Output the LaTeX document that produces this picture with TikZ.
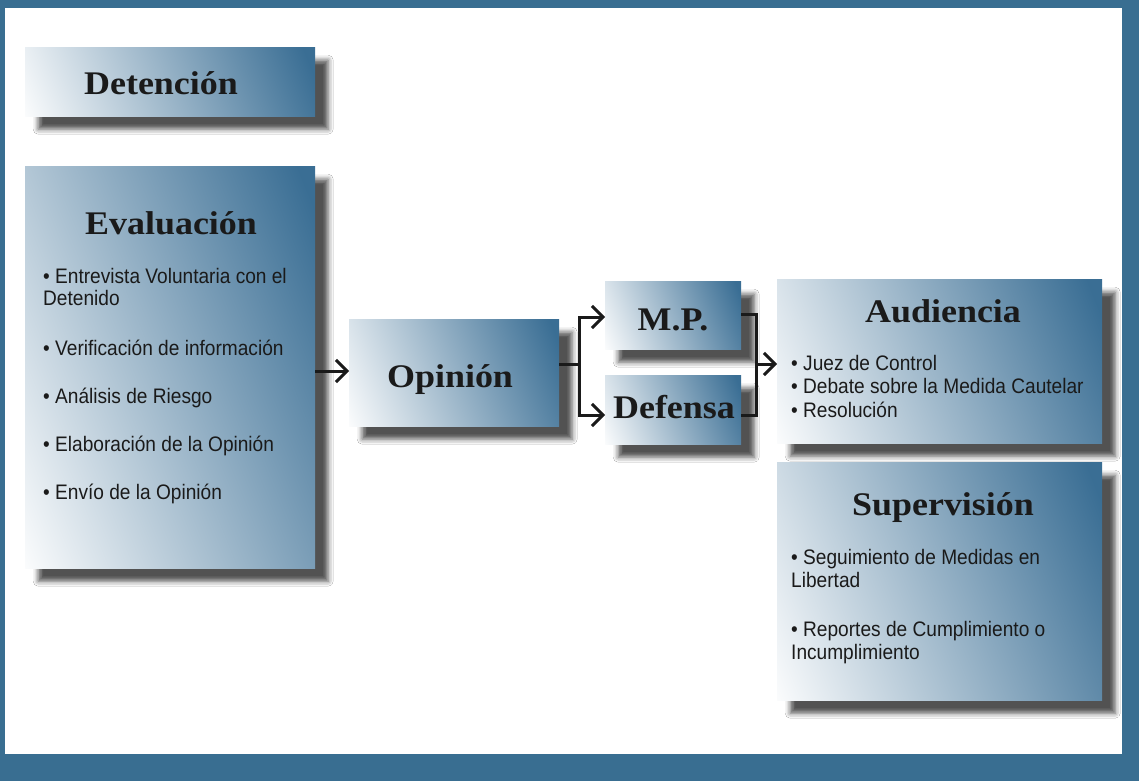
\documentclass[tikz,border=0pt]{standalone}
\usepackage{fontspec}
\newfontfamily\condfont[FakeStretch=0.91]{Liberation Sans}
\newfontfamily\ttlfont[FakeStretch=1.09]{Liberation Serif}
\usetikzlibrary{arrows.meta,shadows.blur}
\definecolor{framecol}{RGB}{57,110,145}
\definecolor{boxdark}{RGB}{58,110,148}
\definecolor{inkcol}{RGB}{26,26,26}
\pgfdeclareverticalshading{boxshade}{100bp}{color(0bp)=(white); color(16bp)=(white); color(80bp)=(boxdark); color(100bp)=(boxdark)}
\tikzset{
  gbox/.style={draw=none, inner sep=0pt, anchor=north west,
    shade, shading=boxshade, shading angle=-68,
    blur shadow={shadow xshift=13pt, shadow yshift=-13pt, shadow blur radius=5pt, shadow opacity=68}},
  ttl/.style={font=\ttlfont\bfseries\fontsize{33}{38}\selectfont, text=inkcol, anchor=base, inner sep=0pt},
  itm/.style={font=\condfont\fontsize{21}{24}\selectfont, text=inkcol, anchor=base west, inner sep=0pt},
  conn/.style={draw=inkcol, line width=3pt},
  arr/.style={conn, -{Straight Barb[length=11pt,width=22pt]}},
}
\begin{document}
\begin{tikzpicture}[x=1pt,y=-1pt]
\useasboundingbox (0,0) rectangle (1139,781);
\fill[framecol] (0,0) rectangle (1139,781);
\fill[white] (5,8) rectangle (1122,754);

% boxes
\node[gbox, minimum width=290pt, minimum height=69pt] (det) at (25,47) {};
\node[gbox, minimum width=290pt, minimum height=402pt] (eval) at (25,166) {};
\node[gbox, minimum width=210pt, minimum height=107pt] (opin) at (349,319) {};
\node[gbox, minimum width=136pt, minimum height=68pt] (mp) at (605,281) {};
\node[gbox, minimum width=136pt, minimum height=69pt] (def) at (605,375) {};
\node[gbox, minimum width=325pt, minimum height=164pt] (aud) at (777,279) {};
\node[gbox, minimum width=325pt, minimum height=238pt] (sup) at (777,462) {};

% titles
\node[ttl] (detT) at (161,95) {Detención};
\node[ttl] (evalT) at (171,234) {Evaluación};
\node[ttl] (opinT) at (450,387) {Opinión};
\node[ttl] (mpT) at (673,330) {M.P.};
\node[ttl] (defT) at (674,418) {Defensa};
\node[ttl] (audT) at (943,322) {Audiencia};
\node[ttl] (supT) at (943,515) {Supervisión};

% Evaluación items
\node[itm] (e1) at (43,283) {• Entrevista Voluntaria con el};
\node[itm] (e1b) at (43,305) {Detenido};
\node[itm] (e2) at (43,355) {• Verificación de información};
\node[itm] (e3) at (43,403) {• Análisis de Riesgo};
\node[itm] (e4) at (43,451) {• Elaboración de la Opinión};
\node[itm] (e5) at (43,499) {• Envío de la Opinión};

% Audiencia items
\node[itm] (a1) at (791,370) {• Juez de Control};
\node[itm] (a2) at (791,393) {• Debate sobre la Medida Cautelar};
\node[itm] (a3) at (791,417) {• Resolución};

% Supervisión items
\node[itm] (s1) at (791,564) {• Seguimiento de Medidas en};
\node[itm] (s1b) at (791,587) {Libertad};
\node[itm] (s2) at (791,636) {• Reportes de Cumplimiento o};
\node[itm] (s2b) at (791,659) {Incumplimiento};

% connectors
\coordinate (yIn) at (0,371);
\draw[arr] (eval.east |- yIn) -- (opin.west |- yIn);

\coordinate (sp) at (579,364);
\coordinate (yMP) at (0,317);
\coordinate (yDef) at (0,415);
\draw[conn] (opin.east |- sp) -- (sp);
\draw[arr, line join=miter] (sp) |- (mp.west |- yMP);
\draw[arr, line join=miter] (sp) |- (def.west |- yDef);

\coordinate (mgTop) at (756,314);
\coordinate (mgBot) at (756,415);
\coordinate (mg) at (756,364);
\draw[conn, line join=miter] (mp.east |- mgTop) -- (mgTop) -- (mgBot) -- (def.east |- mgBot);
\draw[arr] (mg) -- (aud.west |- mg);
\end{tikzpicture}
\end{document}
